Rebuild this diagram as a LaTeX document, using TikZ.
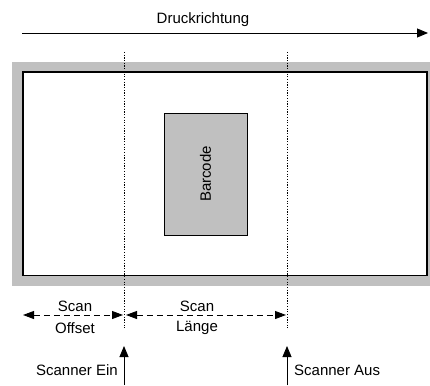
\documentclass[tikz,border=0pt]{standalone}
\usepackage{fontspec}
\setmainfont{Liberation Sans}
\usetikzlibrary{arrows.meta}
\definecolor{framegray}{HTML}{C0C0C0}
\tikzset{
  lbl/.style={font=\fontsize{15}{16}\selectfont, inner sep=0pt},
  tip/.style={-{Triangle[length=11pt,width=9pt]}},
  dualtip/.style={{Triangle[length=11pt,width=8pt]}-{Triangle[length=11pt,width=8pt]}},
  dotline/.style={line width=0.9pt, dash pattern=on 1.2pt off 1.5pt},
  dashline/.style={line width=0.9pt, dash pattern=on 6pt off 4pt}
}
\begin{document}
\begin{tikzpicture}[x=1pt,y=-1pt]
\useasboundingbox (0,0) rectangle (430,385);
% paper
\fill[framegray] (12,62) rectangle (430,286);
\filldraw[fill=white, draw=black, line width=1.4pt] (23,72) rectangle (427,275.5);
% barcode
\node[draw=black, fill=framegray, line width=0.8pt, minimum width=83pt, minimum height=122pt, inner sep=0pt] (bc) at (205.5,174) {};
\node[lbl, rotate=90] (bct) at (bc.center) {Barcode};
% print direction
\coordinate (d1) at (22,33);
\coordinate (d2) at (428,33);
\draw[tip, line width=0.9pt] (d1) -- (d2);
\node[lbl] (dr) at (203,20) {Druckrichtung};
% dotted lines
\coordinate (a1) at (124,52);
\coordinate (a2) at (124,328);
\coordinate (b1) at (287,52);
\coordinate (b2) at (287,328);
\draw[dotline] (a1) -- (a2);
\draw[dotline] (b1) -- (b2);
% dimension arrows
\coordinate (o1) at (23,315);
\coordinate (o2) at (123,315);
\coordinate (l1) at (126,315);
\coordinate (l2) at (286,315);
\draw[dashline, dualtip] (o1) -- (o2);
\draw[dashline, dualtip] (l1) -- (l2);
\node[lbl] (so) at (75,306) {Scan};
\node[lbl] (off) at (75,328) {Offset};
\node[lbl] (sl) at (197,306) {Scan};
\node[lbl] (lg) at (197,328) {Länge};
% scanner arrows
\coordinate (e1) at (124,385);
\coordinate (e2) at (124,346);
\coordinate (f1) at (287,385);
\coordinate (f2) at (287,346);
\draw[tip, line width=0.9pt] (e1) -- (e2);
\draw[tip, line width=0.9pt] (f1) -- (f2);
\node[lbl, anchor=east] (se) at (118,370) {Scanner Ein};
\node[lbl, anchor=west] (sa) at (294,370) {Scanner Aus};
\end{tikzpicture}
\end{document}
